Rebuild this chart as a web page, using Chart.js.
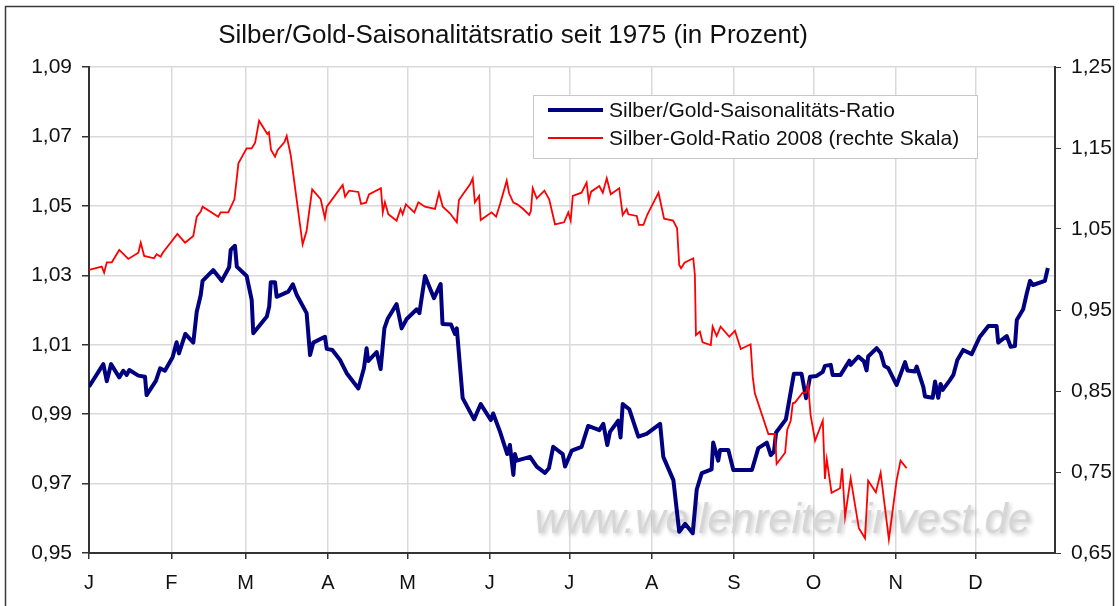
<!DOCTYPE html>
<html>
<head>
<meta charset="utf-8">
<script src="https://cdn.jsdelivr.net/npm/chart.js@4/dist/chart.umd.min.js"></script>
<style>
  html, body { margin: 0; padding: 0; background: #ffffff; }
  #wrap { position: relative; width: 1119px; height: 606px; }
</style>
</head>
<body>
<div id="wrap"><canvas id="c"></canvas></div>
<script>
// ---- data ----
const chartTitle = "Silber/Gold-Saisonalitätsratio seit 1975 (in Prozent)";
const blueLabel = "Silber/Gold-Saisonalitäts-Ratio";
const redLabel = "Silber-Gold-Ratio 2008 (rechte Skala)";
const watermarkText = "www.wellenreiter-invest.de";

const monthLabels = ["J","F","M","A","M","J","J","A","S","O","N","D"];
const monthStartDays = [0,31,59,90,120,151,181,212,243,273,304,334];
const leftTicks = [0.95,0.97,0.99,1.01,1.03,1.05,1.07,1.09];
const rightTicks = [0.65,0.75,0.85,0.95,1.05,1.15,1.25];

const blueDays = [0,5.4,6.7,8.3,11.4,12.9,14.2,15.2,18.6,21.1,
21.7,25.2,26.8,28.6,31.5,33.0,33.9,36.3,39.3,40.6,
42.1,42.8,46.8,50.0,52.8,53.4,55.0,55.7,59.4,61.3,
61.9,67.0,67.9,68.5,70.1,70.7,75.1,76.8,78.3,82.0,
83.3,84.5,88.9,89.6,91.7,94.6,97.1,101.5,103.6,104.6,
105.2,108.4,109.9,111.3,112.5,115.9,117.8,119.7,123.5,124.5,
126.6,130.0,132.5,133.2,136.4,137.9,138.6,139.8,140.8,145.1,
147.6,151.4,152.3,154.9,157.6,158.6,159.9,160.5,161.2,166.2,
168.7,171.8,173.3,174.9,178.5,179.4,181.9,185.6,188.1,192.3,
193.8,195.3,196.3,199.4,200.3,201.1,203.6,207.0,210.1,215.2,
216.4,220.2,222.4,224.6,227.5,229.0,230.9,234.6,235.2,237.1,
237.8,240.9,242.8,249.8,252.2,255.4,256.9,258.1,258.9,262.6,
265.6,268.5,270.2,271.7,274.2,276.5,277.3,279.5,280.2,283.2,
286.5,287.0,289.9,292.0,293.0,293.6,296.8,298.3,299.7,301.2,
304.3,307.5,308.4,311.2,311.9,314.4,315.0,317.9,318.8,320.0,
320.9,321.7,324.4,325.7,327.2,329.4,332.6,335.7,338.9,342.0,
342.6,345.8,347.3,348.9,349.6,352.0,353.4,354.6,355.7,360.2,361.3];

const blueValues = [0.9979,1.0044,0.9995,1.0044,1.0006,1.0025,1.0013,1.0027,1.0011,1.0008,
0.9955,0.9996,1.0032,1.0025,1.0064,1.0107,1.0075,1.0131,1.0106,1.0195,
1.0243,1.0284,1.0315,1.0284,1.0323,1.0373,1.0385,1.0325,1.0298,1.0229,
1.0133,1.0181,1.0210,1.0280,1.0280,1.0238,1.0253,1.0274,1.0243,1.0191,
1.0070,1.0106,1.0123,1.0088,1.0085,1.0056,1.0018,0.9974,1.0032,1.0090,
1.0053,1.0079,1.0030,1.0147,1.0174,1.0217,1.0147,1.0174,1.0202,1.0191,
1.0298,1.0234,1.0275,1.0160,1.0158,1.0131,1.0147,1.0037,0.9946,0.9885,
0.9929,0.9883,0.9902,0.9849,0.9785,0.9811,0.9725,0.9785,0.9766,0.9777,
0.9749,0.9731,0.9744,0.9806,0.9785,0.9749,0.9795,0.9806,0.9866,0.9854,
0.9872,0.9811,0.9849,0.9881,0.9833,0.9929,0.9914,0.9835,0.9843,0.9872,
0.9777,0.9710,0.9561,0.9584,0.9557,0.9683,0.9730,0.9741,0.9818,0.9766,
0.9797,0.9797,0.9739,0.9739,0.9802,0.9818,0.9782,0.9792,0.9847,0.9885,
1.0016,1.0016,0.9946,1.0008,1.0010,1.0022,1.0039,1.0042,1.0013,1.0013,
1.0054,1.0042,1.0066,1.0052,1.0026,1.0066,1.0090,1.0076,1.0039,1.0032,
0.9984,1.0050,1.0026,1.0023,1.0037,0.9978,0.9951,0.9947,0.9994,0.9947,
0.9987,0.9970,0.9998,1.0013,1.0056,1.0085,1.0073,1.0123,1.0154,1.0154,
1.0106,1.0125,1.0094,1.0096,1.0171,1.0202,1.0249,1.0284,1.0272,1.0284,1.0321];

const redDays = [0,4.8,5.7,6.7,8.6,11.4,14.8,18.6,19.5,20.8,
24.5,25.5,27.0,27.8,33.3,36.2,39.3,40.6,42.1,42.8,
48.7,49.6,52.5,54.8,56.3,59.4,61.3,62.6,64.1,67.2,
67.8,68.6,70.1,71.1,73.6,74.5,76.0,80.5,82.0,84.1,
87.3,88.9,89.6,95.6,96.5,98.0,101.5,102.5,104.4,105.5,
110.0,110.7,111.5,112.8,115.9,117.4,118.2,119.4,122.6,124.1,
126.6,130.4,131.9,133.3,136.0,138.6,139.4,141.3,143.6,144.6,
145.4,147.0,147.6,151.7,153.4,154.9,157.4,158.3,159.9,161.4,
163.6,165.9,166.5,167.2,168.7,171.6,173.4,175.6,179.0,180.6,
181.5,182.3,185.6,187.5,188.3,189.2,192.3,193.6,195.1,196.6,
199.8,201.1,202.6,203.2,206.4,207.2,208.9,210.4,214.6,216.7,
220.1,221.6,222.4,223.1,224.4,227.7,228.3,228.7,230.2,231.2,
234.3,235.0,236.5,238.0,241.3,243.4,245.6,249.3,250.1,250.9,
256.0,258.5,259.1,262.3,263.1,264.4,265.2,266.0,268.9,270.2,
271.0,271.9,273.6,276.5,277.3,278.0,279.8,283.0,283.8,284.9,
287.0,290.1,292.4,293.6,296.5,298.3,301.4,304.3,305.8,308.1];

const redValues = [0.9994,1.0035,0.9961,1.0089,1.0089,1.0241,1.0130,1.0207,1.0331,1.0167,
1.0138,1.0188,1.0158,1.0207,1.0438,1.0331,1.0414,1.0652,1.0714,1.0775,
1.0652,1.0706,1.0706,1.0867,1.1311,1.1496,1.1496,1.1566,1.1837,1.1673,
1.1694,1.1475,1.1393,1.1475,1.1570,1.1648,1.1414,1.0311,1.0479,1.0990,
1.0867,1.0632,1.0775,1.1043,1.0899,1.0973,1.0957,1.0809,1.0825,1.0928,
1.1003,1.0706,1.0830,1.0682,1.0603,1.0747,1.0682,1.0805,1.0706,1.0830,
1.0775,1.0747,1.0948,1.0775,1.0694,1.0583,1.0858,1.0948,1.1052,1.1126,
1.0830,1.0908,1.0611,1.0706,1.0652,1.0809,1.1096,1.0941,1.0825,1.0805,
1.0747,1.0673,1.0722,1.1003,1.0879,1.0973,1.0867,1.0558,1.0583,1.0706,
1.0603,1.0908,1.0948,1.1072,1.0846,1.0961,1.1031,1.0948,1.1126,1.0928,
1.1003,1.0673,1.0747,1.0682,1.0661,1.0550,1.0550,1.0679,1.0948,1.0627,
1.0603,1.0509,1.0056,1.0015,1.0083,1.0138,0.9932,0.9191,0.9232,0.9101,
0.9068,0.9294,0.9179,0.9294,0.9170,0.9244,0.9019,0.9077,0.8677,0.8472,
0.7969,0.7969,0.7599,0.7738,0.8019,0.8133,0.8348,0.8356,0.8479,0.8479,
0.8574,0.8204,0.7886,0.8133,0.7414,0.7657,0.7244,0.7299,0.7546,0.6948,
0.7422,0.6805,0.6681,0.7393,0.7249,0.7491,0.6669,0.7393,0.7640,0.7546];

// ---- chart ----
const FONT = '"Liberation Sans", Arial, sans-serif';
const toPts = (xs, ys) => xs.map((x, i) => ({ x: x, y: ys[i] }));
const fmt = v => Number(v).toFixed(2).replace('.', ',');

const decor = {
  id: 'decor',
  beforeDraw(chart) {
    const ctx = chart.ctx;
    ctx.save();
    ctx.fillStyle = '#ffffff';
    ctx.fillRect(0, 0, chart.width, chart.height);
    ctx.strokeStyle = '#3a3a3a';
    ctx.lineWidth = 1.5;
    ctx.strokeRect(5.5, 6.5, 1108, 700);
    ctx.fillStyle = '#111111';
    ctx.font = '26px ' + FONT;
    ctx.textAlign = 'center';
    ctx.textBaseline = 'middle';
    ctx.fillText(chartTitle, 513, 36);
    ctx.restore();
  },
  beforeDatasetsDraw(chart) {
    const ctx = chart.ctx;
    ctx.save();
    ctx.font = 'italic 42px ' + FONT;
    ctx.textAlign = 'center';
    ctx.textBaseline = 'middle';
    ctx.shadowColor = 'rgba(0,0,0,0.2)';
    ctx.shadowBlur = 4;
    ctx.shadowOffsetX = 2;
    ctx.shadowOffsetY = 2;
    ctx.fillStyle = '#d6d6d6';
    ctx.fillText(watermarkText, 783, 521);
    ctx.restore();
  },
  afterDatasetsDraw(chart) {
    const ctx = chart.ctx;
    const ds = chart.data.datasets;
    ctx.save();
    ctx.fillStyle = '#ffffff';
    ctx.fillRect(533, 95, 444, 63);
    ctx.strokeStyle = '#c8c8c8';
    ctx.lineWidth = 1;
    ctx.strokeRect(533.5, 95.5, 444, 63);
    const rows = [110, 138];
    ds.forEach((d, i) => {
      ctx.strokeStyle = d.borderColor;
      ctx.lineWidth = d.borderWidth;
      ctx.beginPath();
      ctx.moveTo(548, rows[i]);
      ctx.lineTo(603, rows[i]);
      ctx.stroke();
      ctx.fillStyle = '#111111';
      ctx.font = '21px ' + FONT;
      ctx.textAlign = 'left';
      ctx.textBaseline = 'middle';
      ctx.fillText(d.label, 609, rows[i] + 1);
    });
    ctx.restore();
  }
};

new Chart(document.getElementById('c'), {
  type: 'line',
  data: {
    datasets: [
      { label: blueLabel, data: toPts(blueDays, blueValues), yAxisID: 'y',
        borderColor: '#000080', borderWidth: 4, pointRadius: 0, tension: 0, order: 2,
        borderJoinStyle: 'round' },
      { label: redLabel, data: toPts(redDays, redValues), yAxisID: 'y1',
        borderColor: '#ff0000', borderWidth: 1.8, pointRadius: 0, tension: 0, order: 1 }
    ]
  },
  options: {
    responsive: true,
    maintainAspectRatio: false,
    animation: false,
    layout: { padding: { top: 67, left: 0, right: 0, bottom: 0 } },
    plugins: { legend: { display: false }, title: { display: false }, tooltip: { enabled: false } },
    scales: {
      x: {
        type: 'linear', min: 0, max: 364,
        afterBuildTicks: s => { s.ticks = monthStartDays.map(v => ({ value: v })); },
        afterFit: s => { s.height = 53; },
        ticks: {
          autoSkip: false, maxRotation: 0, padding: 12, color: '#111111',
          font: { family: FONT, size: 20 },
          callback: (v, i) => monthLabels[i]
        },
        grid: { color: '#d9d9d9', lineWidth: 1.5, tickColor: '#333333', tickLength: 6 },
        border: { color: '#333333', width: 2 }
      },
      y: {
        position: 'left', min: 0.95, max: 1.09,
        afterBuildTicks: s => { s.ticks = leftTicks.map(v => ({ value: v })); },
        afterFit: s => { s.width = 89; },
        ticks: { padding: 10, color: '#111111', font: { family: FONT, size: 21 }, callback: v => fmt(v) },
        grid: { color: '#d9d9d9', lineWidth: 1.5, tickColor: '#333333', tickLength: 7 },
        border: { color: '#333333', width: 2 }
      },
      y1: {
        position: 'right', min: 0.65, max: 1.25,
        afterBuildTicks: s => { s.ticks = rightTicks.map(v => ({ value: v })); },
        afterFit: s => { s.width = 64; },
        ticks: { padding: 10, color: '#111111', font: { family: FONT, size: 21 }, callback: v => fmt(v) },
        grid: { drawOnChartArea: false, tickColor: '#333333', tickLength: 6 },
        border: { color: '#333333', width: 2 }
      }
    }
  },
  plugins: [decor]
});
</script>
</body>
</html>
